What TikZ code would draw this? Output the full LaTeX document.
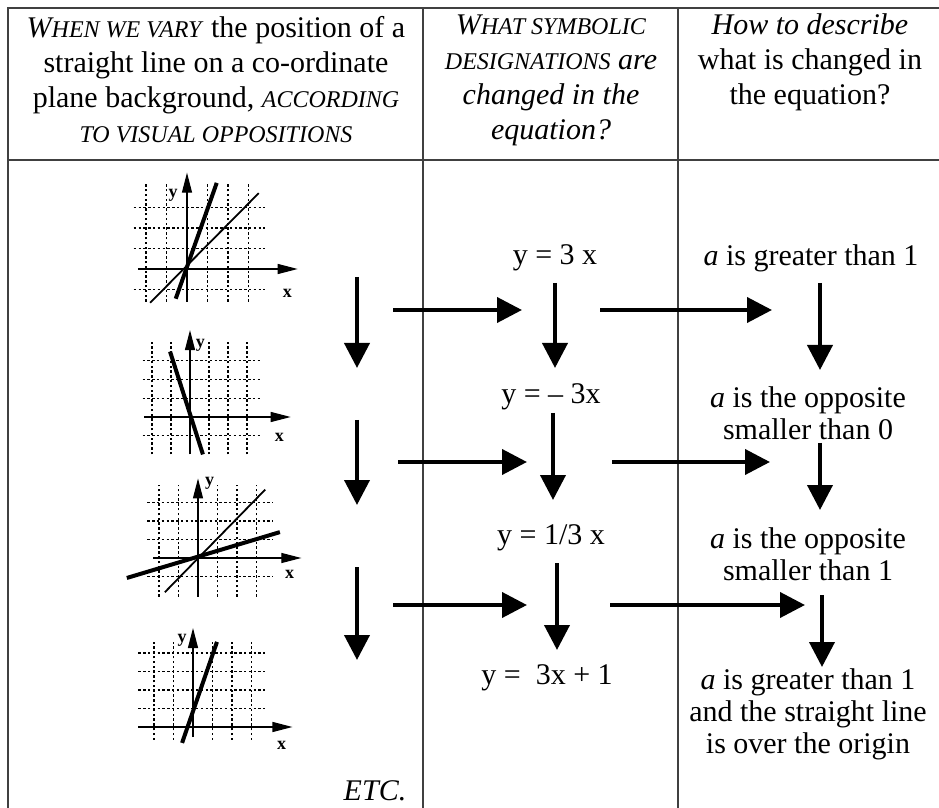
\documentclass[tikz,border=0pt]{standalone}
\usepackage{fontspec}
\setmainfont{Liberation Serif}
\usetikzlibrary{arrows.meta}

% fake small capitals
\newcommand\fsc[1]{{\fontsize{12}{12}\selectfont #1}}

\begin{document}
\begin{tikzpicture}[
    x = 0.5pt,
    y = -0.5pt,
    cell/.style = {align=center, inner sep=0pt, font=\fontsize{15}{17.5}\selectfont},
    entry/.style = {align=center, inner sep=0pt, font=\fontsize{15}{16}\selectfont},
    rule/.style = {line width=0.8pt, black!75},
    bigarrow/.style = {line width=2pt, -{Triangle[length=12.5pt, width=12.5pt]}},
    gridline/.style = {line width=0.6pt, dash pattern=on 1.2pt off 1.2pt},
    axis/.style = {line width=0.6pt, -{Triangle[length=10pt, width=5pt]}},
    thinline/.style = {line width=0.9pt},
    thickline/.style = {line width=2pt},
    axlabel/.style = {inner sep=0pt, font=\fontsize{9}{9}\selectfont\bfseries}
]
\useasboundingbox (0,0) rectangle (939,808);

% 1. Table rules
\draw[rule] (939,8) -- (8,8) -- (8,808);
\draw[rule] (423,8) -- (423,808);
\draw[rule] (678,8) -- (678,808);
\draw[rule] (8,160) -- (939,160);

% 2. Header row
\node[cell] (head1) at (216,80) {\textit{W\fsc{HEN WE VARY}} the position of a\\
    straight line on a co-ordinate\\
    plane background, \textit{\fsc{ACCORDING}}\\
    \textit{\fsc{TO VISUAL OPPOSITIONS}}};
\node[cell] (head2) at (551,80) {\textit{W\fsc{HAT SYMBOLIC}}\\
    \textit{\fsc{DESIGNATIONS} are}\\
    \textit{changed in the}\\
    \textit{equation?}};
\node[cell] (head3) at (810,62) {\textit{How to describe}\\
    what is changed in\\
    the equation?};

% 3. Small coordinate planes
\begin{scope}[shift={(93.5pt,-134.5pt)}, x=10.25pt, y=10.25pt]
    \foreach \gy in {-1,1,2,3} \draw[gridline] (-2.6,\gy) -- (3.8,\gy);
    \foreach \gx in {-2,-1,1,2,3} \draw[gridline] (\gx,-1.6) -- (\gx,4.2);
    \draw[axis] (-2.4,0) -- (5.4,0);
    \draw[axis] (0,-1.6) -- (0,4.7);
    \draw[thinline] (-1.8,-1.65) -- (3.5,3.7);
    \draw[thickline] (-0.55,-1.45) -- (1.45,4.2);
    \node[axlabel] (g1y) at (-0.68,3.6) {y};
    \node[axlabel] (g1x) at (4.9,-1.2) {x};
\end{scope}

\begin{scope}[shift={(95pt,-208.5pt)}, x=9.5pt, y=9.35pt]
    \foreach \gy in {-1,1,2,3} \draw[gridline] (-2.5,\gy) -- (3.7,\gy);
    \foreach \gx in {-2,-1,1,2,3} \draw[gridline] (\gx,-2) -- (\gx,4);
    \draw[axis] (-2.4,0) -- (5.3,0);
    \draw[axis] (0,-2) -- (0,4.65);
    \draw[thickline] (-1.05,3.5) -- (0.68,-2);
    \node[axlabel] (g2y) at (0.55,3.85) {y};
    \node[axlabel] (g2x) at (4.7,-1.1) {x};
\end{scope}

\begin{scope}[shift={(99pt,-279pt)}, x=9.75pt, y=9.25pt]
    \foreach \gy in {-1,1,2,3} \draw[gridline] (-2.6,\gy) -- (3.85,\gy);
    \foreach \gx in {-2,-1,1,2,3} \draw[gridline] (\gx,-2.1) -- (\gx,3.95);
    \draw[axis] (-2.3,0) -- (5.3,0);
    \draw[axis] (0,-2.1) -- (0,4.3);
    \draw[thinline] (-1.7,-1.85) -- (3.45,3.7);
    \draw[thickline] (-3.65,-1.08) -- (4.2,1.4);
    \node[axlabel] (g3y) at (0.6,4.05) {y};
    \node[axlabel] (g3x) at (4.7,-0.9) {x};
\end{scope}

\begin{scope}[shift={(96.5pt,-363.5pt)}, x=9.75pt, y=9.25pt]
    \foreach \gy in {1,2,3,4} \draw[gridline] (-2.8,\gy) -- (3.7,\gy);
    \foreach \gx in {-2,-1,1,2,3} \draw[gridline] (\gx,-0.7) -- (\gx,4.6);
    \draw[axis] (-2.8,0) -- (5.1,0);
    \draw[axis] (0,-0.55) -- (0,5.35);
    \draw[thickline] (-0.56,-0.86) -- (1.23,4.6);
    \node[axlabel] (g4y) at (-0.56,4.7) {y};
    \node[axlabel] (g4x) at (4.55,-0.97) {x};
\end{scope}

\node[entry, font=\fontsize{15}{16}\selectfont\itshape] (etc) at (375,791) {ETC.};

% 4. Equations and descriptions
\node[entry] (eq1) at (555,258) {y = 3 x};
\node[entry] (eq2) at (551,397) {y = -- 3x};
\node[entry] (eq3) at (551,538) {y = 1/3 x};
\node[entry] (eq4) at (547,678) {y =\ \ 3x + 1};

\node[entry] (desc1) at (811,258) {\textit{a} is greater than 1};
\node[entry] (desc2) at (808,413) {\textit{a} is the opposite\\ smaller than 0};
\node[entry] (desc3) at (808,554) {\textit{a} is the opposite\\ smaller than 1};
\node[entry] (desc4) at (808,714) {\textit{a} is greater than 1\\ and the straight line\\ is over the origin};

% 5. Arrow ends
\coordinate (va1) at (357,277); \coordinate (va2) at (357,368);
\coordinate (vb1) at (357,420); \coordinate (vb2) at (357,505);
\coordinate (vc1) at (357,567); \coordinate (vc2) at (357,660);

\coordinate (ha1) at (393,310); \coordinate (ha2) at (522,310);
\coordinate (hb1) at (398,462); \coordinate (hb2) at (527,462);
\coordinate (hc1) at (393,605); \coordinate (hc2) at (527,605);

\coordinate (ea1) at (555,283); \coordinate (ea2) at (555,368);
\coordinate (eb1) at (553,413); \coordinate (eb2) at (553,500);
\coordinate (ec1) at (557,563); \coordinate (ec2) at (557,650);

\coordinate (ka1) at (600,310); \coordinate (ka2) at (772,310);
\coordinate (kb1) at (612,462); \coordinate (kb2) at (770,462);
\coordinate (kc1) at (610,605); \coordinate (kc2) at (805,605);

\coordinate (da1) at (820,283); \coordinate (da2) at (820,370);
\coordinate (db1) at (820,443); \coordinate (db2) at (820,510);
\coordinate (dc1) at (822,595); \coordinate (dc2) at (822,667);

% 6. Arrows
\draw[bigarrow] (va1) -- (va2);
\draw[bigarrow] (vb1) -- (vb2);
\draw[bigarrow] (vc1) -- (vc2);

\draw[bigarrow] (ha1) -- (ha2);
\draw[bigarrow] (hb1) -- (hb2);
\draw[bigarrow] (hc1) -- (hc2);

\draw[bigarrow] (ea1) -- (ea2);
\draw[bigarrow] (eb1) -- (eb2);
\draw[bigarrow] (ec1) -- (ec2);

\draw[bigarrow] (ka1) -- (ka2);
\draw[bigarrow] (kb1) -- (kb2);
\draw[bigarrow] (kc1) -- (kc2);

\draw[bigarrow] (da1) -- (da2);
\draw[bigarrow] (db1) -- (db2);
\draw[bigarrow] (dc1) -- (dc2);

\end{tikzpicture}
\end{document}
